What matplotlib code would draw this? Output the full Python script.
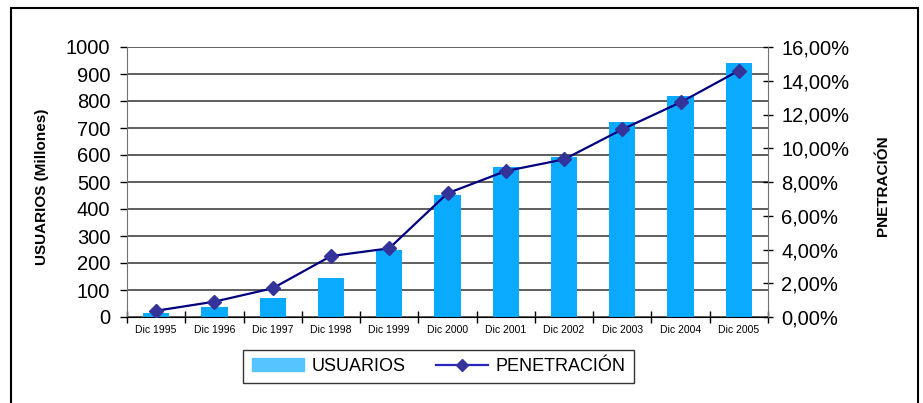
import matplotlib
matplotlib.use("Agg")
import matplotlib.pyplot as plt
from matplotlib.patches import Rectangle
from matplotlib.lines import Line2D
from matplotlib.ticker import FuncFormatter, FixedLocator
import numpy as np

plt.rcParams['font.family'] = ['Liberation Sans', 'DejaVu Sans']

categories = ["Dic 1995", "Dic 1996", "Dic 1997", "Dic 1998", "Dic 1999", "Dic 2000",
              "Dic 2001", "Dic 2002", "Dic 2003", "Dic 2004", "Dic 2005"]
usuarios = [16, 38, 71, 146, 248, 452, 556, 593, 723, 818, 940]
penetracion = [0.37, 0.91, 1.70, 3.61, 4.07, 7.33, 8.65, 9.34, 11.12, 12.72, 14.60]
y_left_ticks = [0, 100, 200, 300, 400, 500, 600, 700, 800, 900, 1000]
y_right_ticks = [0, 2, 4, 6, 8, 10, 12, 14, 16]

W, H = 923, 403
fig = plt.figure(figsize=(W / 100, H / 100), dpi=100)
fig.patch.set_facecolor('white')

ax = fig.add_axes([127 / W, 1 - 317 / H, (768 - 127) / W, (317 - 47) / H])
x = np.arange(len(categories))

ax.set_axisbelow(True)
ax.bar(x, usuarios, width=0.45, color='#0AABFF', zorder=2)
ax.set_xlim(-0.5, len(categories) - 0.5)
ax.set_ylim(0, 1000)
ax.set_yticks(y_left_ticks)
ax.yaxis.grid(True, color='#333333', linewidth=1.1)
ax.tick_params(axis='y', direction='out', length=5, width=1, labelsize=14.5, pad=7, colors='black')
ax.set_xticks(x)
ax.set_xticklabels(categories, fontsize=7.5)
ax.tick_params(axis='x', which='major', length=0, pad=6)
ax.xaxis.set_minor_locator(FixedLocator(np.arange(-0.5, len(categories), 1.0)))
ax.tick_params(axis='x', which='minor', direction='inout', length=9, width=1)
for s in ['top', 'right']:
    ax.spines[s].set_visible(False)
ax.spines['left'].set_color('#707070')
ax.spines['bottom'].set_color('black')

ax2 = ax.twinx()
ax2.plot(x, penetracion, color='#000080', linewidth=1.6, marker='D', markersize=7,
         markerfacecolor='#333399', markeredgecolor='#333399', zorder=5)
ax2.set_ylim(0, 16)
ax2.set_yticks(y_right_ticks)
ax2.yaxis.set_major_formatter(FuncFormatter(lambda v, p: f"{v:.2f}".replace('.', ',') + "%"))
ax2.tick_params(axis='y', direction='inout', length=7, width=1, labelsize=14.5, pad=6)
for s in ['top', 'left', 'bottom']:
    ax2.spines[s].set_visible(False)
ax2.spines['right'].set_color('#707070')

fig.text(42 / W, 1 - 186.5 / H, "USUARIOS (Millones)", rotation=90, ha='center', va='center',
         fontsize=11, fontweight='bold')
fig.text(883 / W, 1 - 186 / H, "PNETRACIÓN", rotation=90, ha='center', va='center',
         fontsize=11, fontweight='bold')

handles = [Rectangle((0, 0), 1, 1, color='#55C4FF'),
           Line2D([0], [0], color='#2828C0', linewidth=1.6, marker='D', markersize=6,
                  markerfacecolor='#333399', markeredgecolor='#333399')]
leg = fig.legend(handles, ["USUARIOS", "PENETRACIÓN"], loc='center',
                 bbox_to_anchor=(438.5 / W, 1 - 366.5 / H), ncol=2, fontsize=13,
                 frameon=True, fancybox=False, edgecolor='black', handlelength=2.9,
                 handleheight=0.72, handletextpad=0.4, columnspacing=1.7, borderpad=0.45)
leg.get_frame().set_linewidth(1.0)

fig.add_artist(Rectangle((11 / W, -0.05), (918 - 11) / W, 1.05 - 8 / H,
                         transform=fig.transFigure, fill=False, edgecolor='black', linewidth=1.5))

fig.savefig("out.png", dpi=100)
